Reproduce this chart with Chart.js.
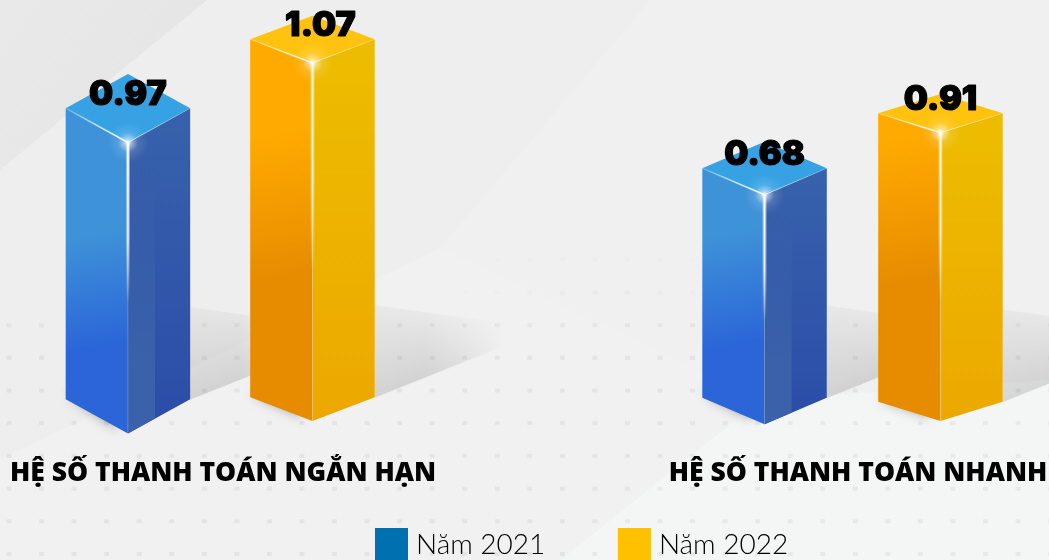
<!DOCTYPE html>
<html><head><meta charset="utf-8">
<style>html,body{margin:0;padding:0;background:#f1f1f1;overflow:hidden}canvas{display:block}</style>
<script src="https://cdn.jsdelivr.net/npm/chart.js@4/dist/chart.umd.js"></script>
</head><body><canvas id="c" width="1049" height="560"></canvas>
<script>
const categories = ['HỆ SỐ THANH TOÁN NGẮN HẠN', 'HỆ SỐ THANH TOÁN NHANH'];
const seriesNames = ['Năm 2021', 'Năm 2022'];
const values2021 = [0.97, 0.68];
const values2022 = [1.07, 0.91];
const legendColors = ['#0070B0', '#FFC000'];

// The source picture is pictorial: bar heights are not proportional to their labels.
// This scale keeps the value order and reproduces the picture's drawn heights.
const scaleValues = [0, 0.68, 0.91, 0.97, 1.07];
const scaleFractions = [0, 0.6409, 0.794, 0.8079, 1];

// per-bar styling of the 3D prism, [2021 bars, 2022 bars]
const prismDepth = [[34.2, 26.5], [23.6, 19.4]];
const prismNudgeX = [[-4.65, -3.05], [-0.95, -7.95]];
const prismNudgeBase = [[0.8, -0.8], [-1.2, 3.2]];
const labelNudgeX = [[0, 0], [8, 0]];

class PictorialScale extends Chart.LinearScale {
  static id = 'pictorial';
  static defaults = Chart.LinearScale.defaults;
  getPixelForValue(v) {
    if (v === null || v === undefined) return NaN;
    let i = 1;
    while (i < scaleValues.length - 1 && v > scaleValues[i]) i++;
    const t = (v - scaleValues[i-1]) / (scaleValues[i] - scaleValues[i-1]);
    return this.getPixelForDecimal(scaleFractions[i-1] + t * (scaleFractions[i] - scaleFractions[i-1]));
  }
}
Chart.register(PictorialScale);

const palettes = [
  {top:'#36a2e4', leftA:'#3e92d8', leftB:'#2b65d8', from:170, to:60,
   right:[[0,'#3762ab'],[1,'#2b4ca8']], strip:'#3a61a9', line:'255,255,255', lineLen:.55, edge:'255,255,255'},
  {top:'#ffc30f', leftA:'#ffaa00', leftB:'#e78c00', from:270, to:130,
   right:[[0,'#edbd00'],[1,'#eca800']], strip:null, line:'255,248,205', lineLen:.58, edge:'255,255,255'}
];

function poly(ctx, pts){ctx.beginPath();pts.forEach((p,i)=>i?ctx.lineTo(p[0],p[1]):ctx.moveTo(p[0],p[1]));ctx.closePath();}
function grad(ctx,x0,y0,x1,y1,stops){const g=ctx.createLinearGradient(x0,y0,x1,y1);stops.forEach(s=>g.addColorStop(s[0],s[1]));return g;}

function drawBackground(ctx,w,h){
  ctx.fillStyle='#f0f0f0';ctx.fillRect(0,0,w,h);
  poly(ctx,[[207,0],[650,0],[440,248],[0,460],[0,170]]);ctx.fillStyle='#eeeeee';ctx.fill();
  poly(ctx,[[0,0],[207,0],[0,170]]);ctx.fillStyle=grad(ctx,0,0,180,120,[[0,'#e9e9e9'],[1,'#e5e5e5']]);ctx.fill();
  poly(ctx,[[0,560],[0,460],[440,248],[760,400],[560,560]]);ctx.fillStyle='#f1f1f1';ctx.fill();
  poly(ctx,[[560,560],[760,400],[1049,380],[1049,560]]);ctx.fillStyle='#f4f5f5';ctx.fill();
  for(let r=0;r<11;r++){
    const y=227+r*32.7;
    const a=Math.min(1,(r+0.4)/4)*0.05;
    for(let c=0;c<33;c++){
      const x=9+c*32.55;
      const fade=(r<3)?Math.max(0,1-Math.abs(x-600)/190):1;
      ctx.fillStyle='rgba(0,0,0,'+(a*fade)+')';
      ctx.fillRect(x-2.5,y-2,5,4);
    }
  }
}

function drawShadow(ctx,ex,b){
  // cast shadow: darker toward the floor, fading out to the right
  const span=130, step=2;
  for(let o=0;o<span;o+=step){
    const k=o<50?1:Math.max(0,1-(o-50)/(span-50));
    if(k<=0)break;
    const top=b-92+o*.14, bot=b-o*.4;
    if(bot<=top)break;
    ctx.fillStyle=grad(ctx,0,top,0,bot,[[0,'rgba(0,0,0,'+(.035*k)+')'],[1,'rgba(0,0,0,'+(.13*k)+')']]);
    ctx.fillRect(ex+o,top,step,bot-top);
  }
}

function drawPrism(ctx,el,ds,i){
  const pal=palettes[ds], cx=el.x+prismNudgeX[ds][i], y=el.y, b=el.base+prismNudgeBase[ds][i],
        hw=el.width/2, d=prismDepth[ds][i];
  drawShadow(ctx,cx+hw,b);
  ctx.save();
  ctx.shadowColor='rgba(0,0,0,.4)';ctx.shadowBlur=12;ctx.shadowOffsetX=-1;ctx.shadowOffsetY=1;
  poly(ctx,[[cx-hw+8,b-2],[cx-10,b+d-6],[cx-10,b+d-16],[cx-hw+8,b-12]]);ctx.fillStyle='#888';ctx.fill();
  ctx.restore();
  // left face
  poly(ctx,[[cx-hw,y],[cx,y+d],[cx,b+d],[cx-hw,b]]);
  const py=b-pal.from, t=pal.from-pal.to;
  ctx.fillStyle=grad(ctx,cx,py,cx+.18*t,py+t,[[0,pal.leftA],[1,pal.leftB]]);ctx.fill();
  // right face
  poly(ctx,[[cx,y+d],[cx+hw,y],[cx+hw,b],[cx,b+d]]);
  ctx.fillStyle=grad(ctx,0,y,0,b+d,pal.right);ctx.fill();
  if(pal.strip){
    const sw=hw*.435;
    poly(ctx,[[cx,y+d],[cx+sw,y+d-d*.435],[cx+sw,b+d-d*.435],[cx,b+d]]);
    ctx.fillStyle=grad(ctx,0,y+d,0,b+d,[[0,pal.strip+'00'],[.45,pal.strip+'aa'],[.75,pal.strip],[1,pal.strip]]);ctx.fill();
  }
  // top face
  poly(ctx,[[cx,y-d],[cx+hw,y],[cx,y+d],[cx-hw,y]]);ctx.fillStyle=pal.top;ctx.fill();
  // edges and glare
  ctx.lineWidth=1.6;
  ctx.strokeStyle=grad(ctx,cx-hw,y,cx,y+d,[[0,'rgba('+pal.edge+',.1)'],[.55,'rgba('+pal.edge+',.65)'],[1,'rgba('+pal.edge+',.95)']]);
  ctx.beginPath();ctx.moveTo(cx-hw,y);ctx.lineTo(cx,y+d);ctx.stroke();
  ctx.lineWidth=1;
  ctx.strokeStyle=grad(ctx,cx+hw,y,cx,y+d,[[0,'rgba('+pal.edge+',.1)'],[1,'rgba('+pal.edge+',.6)']]);
  ctx.beginPath();ctx.moveTo(cx+hw,y);ctx.lineTo(cx,y+d);ctx.stroke();
  const len=(b-y)*pal.lineLen;
  ctx.lineWidth=4;
  ctx.strokeStyle=grad(ctx,0,y+d,0,y+d+len,[[0,'rgba('+pal.line+',.45)'],[.6,'rgba('+pal.line+',.35)'],[1,'rgba('+pal.line+',0)']]);
  ctx.beginPath();ctx.moveTo(cx,y+d);ctx.lineTo(cx,y+d+len);ctx.stroke();
  ctx.lineWidth=1.8;
  ctx.strokeStyle=grad(ctx,0,y+d,0,y+d+len,[[0,'rgba('+pal.line+',1)'],[.6,'rgba('+pal.line+',.75)'],[1,'rgba('+pal.line+',0)']]);
  ctx.beginPath();ctx.moveTo(cx,y+d);ctx.lineTo(cx,y+d+len);ctx.stroke();
  ctx.lineWidth=1;
  ctx.strokeStyle='rgba(255,255,255,.2)';
  ctx.beginPath();ctx.moveTo(cx,y+d+len*.5);ctx.lineTo(cx,b+d);ctx.stroke();
  const r=ctx.createRadialGradient(cx,y+d,0,cx,y+d,20);
  r.addColorStop(0,'rgba(255,255,255,.95)');r.addColorStop(.2,'rgba(255,255,255,.5)');r.addColorStop(.5,'rgba(255,255,255,.12)');r.addColorStop(1,'rgba(255,255,255,0)');
  ctx.fillStyle=r;ctx.fillRect(cx-20,y+d-20,40,40);
}

const prismPlugin = {
  id:'prism',
  beforeDraw(chart){drawBackground(chart.ctx,chart.width,chart.height);},
  beforeLayout(chart){
    const lg=chart.legend;
    if(lg && !lg._fitPatched){
      const f=lg.fit;
      lg.fit=function(){f.call(this);this.height=53;};
      lg._fitPatched=true;
    }
  },
  afterLayout(chart){
    const lg=chart.legend, p=lg.options.labels.padding;
    lg.left=375-p; lg.right=1049+p; lg.top=528-p; lg.bottom=560+p;
    lg.adjustHitBoxes();
  },
  beforeDatasetDraw(){return false;},
  afterDatasetsDraw(chart){
    const ctx=chart.ctx, bars=[];
    chart.data.datasets.forEach((d,ds)=>chart.getDatasetMeta(ds).data.forEach((el,i)=>bars.push([el,ds,i])));
    bars.sort((a,b)=>a[0].x-b[0].x);
    bars.forEach(([el,ds,i])=>{ctx.save();drawPrism(ctx,el,ds,i);ctx.restore();});
    ctx.save();
    ctx.fillStyle='#000';ctx.strokeStyle='#000';ctx.lineWidth=1.2;ctx.lineJoin='round';ctx.textAlign='center';ctx.textBaseline='middle';
    ctx.font='900 34px Inter, Lato, sans-serif';
    bars.forEach(([el,ds,i])=>{
      const s=chart.data.datasets[ds].data[i].toFixed(2), x=el.x+prismNudgeX[ds][i]+labelNudgeX[ds][i];
      ctx.fillText(s,x,el.y-14);ctx.strokeText(s,x,el.y-14);
    });
    ctx.restore();
  },
  afterDraw(chart){
    // legend swatch runs a little closer to its text than the library's gap allows
    const ctx=chart.ctx, lg=chart.legend, bw=lg.options.labels.boxWidth, bh=lg.options.labels.boxHeight;
    lg.legendHitBoxes.forEach((h,i)=>{ctx.fillStyle=legendColors[i];ctx.fillRect(h.left+bw-.5,528,33-bw+.5,bh);});
  }
};

new Chart(document.getElementById('c').getContext('2d'),{
  type:'bar',
  data:{labels:categories,datasets:[
    {label:seriesNames[0],data:values2021,backgroundColor:legendColors[0],borderWidth:0},
    {label:seriesNames[1],data:values2022,backgroundColor:legendColors[1],borderWidth:0}
  ]},
  plugins:[prismPlugin],
  options:{
    responsive:false,animation:false,
    events:[],
    layout:{padding:{top:39.3,left:223,right:191,bottom:0}},
    datasets:{bar:{categoryPercentage:.5695,barPercentage:.6885}},
    scales:{
      x:{type:'category',offset:false,grid:{display:false,drawTicks:false},border:{display:false},
        ticks:{autoSkip:false,maxRotation:0,minRotation:0,padding:59,color:'#000',font:{family:'Open Sans',size:26.5,weight:'800'}},
        afterFit(s){s.height=108.5;s.paddingLeft=0;s.paddingRight=0;}},
      y:{type:'pictorial',display:false,min:0,max:1.07}
    },
    plugins:{
      tooltip:{enabled:false},
      legend:{position:'bottom',align:'start',labels:{boxWidth:27,boxHeight:33,padding:72.6,color:'#000',
        font:{family:'Lato',size:28,weight:'300'}}}
    }
  }
});
</script></body></html>
